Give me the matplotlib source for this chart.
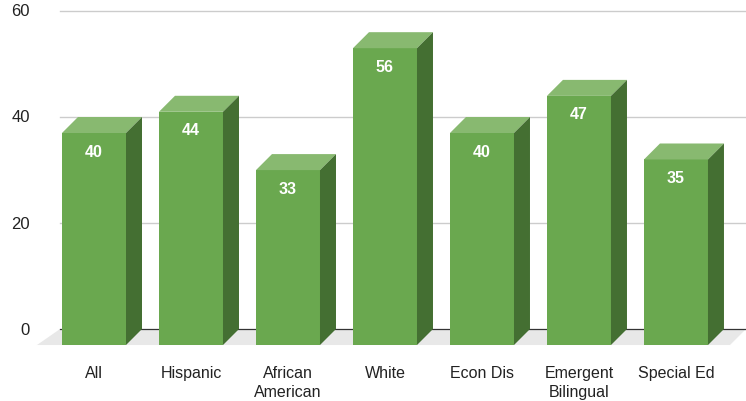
import matplotlib.pyplot as plt
from matplotlib.patches import Polygon
import numpy as np

categories = ['All', 'Hispanic', 'African\nAmerican', 'White', 'Econ Dis', 'Emergent\nBilingual', 'Special Ed']
values = [40, 44, 33, 56, 40, 47, 35]
yticks = [0, 20, 40, 60]

front_col = '#6aa84f'
top_col = '#88b970'
side_col = '#446f32'

plt.rcParams['font.family'] = ['Liberation Sans', 'DejaVu Sans']

fig = plt.figure(figsize=(7.46, 4.02), dpi=100)
ax = fig.add_axes([0, 0, 1, 1])
ax.set_xlim(-0.969, 6.722)
ax.set_ylim(-13.58, 62.26)
ax.axis('off')

x = np.arange(len(categories))
w = 0.66
dx = 16 / 97      # depth offset (x, data units)
dy = 16 / 5.3     # depth offset (y, data units)

# back wall gridlines
for t in yticks[1:]:
    ax.plot([-0.35, 6.722], [t, t], color='#cccccc', lw=1, zorder=1)
for t in yticks:
    ax.text(-0.66, t, str(t), ha='right', va='center', fontsize=12, color='#222222')

# floor
floor = Polygon([(-0.588, -dy), (-0.35, 0), (6.722, 0), (6.557, -dy)],
                closed=True, facecolor='#e8e8e8', edgecolor='none', zorder=1)
ax.add_patch(floor)
ax.plot([-0.35, 6.722], [0, 0], color='#333333', lw=0.9, zorder=2)

# front faces
ax.bar(x, values, width=w, bottom=-dy, color=front_col, zorder=3)

for xi, v in zip(x, values):
    l, r = xi - w / 2, xi + w / 2
    top = Polygon([(l, v - dy), (r, v - dy), (r + dx, v), (l + dx, v)],
                  closed=True, facecolor=top_col, edgecolor='none', zorder=3)
    side = Polygon([(r, -dy), (r + dx, 0), (r + dx, v), (r, v - dy)],
                   closed=True, facecolor=side_col, edgecolor='none', zorder=3)
    ax.add_patch(top)
    ax.add_patch(side)
    ax.text(xi, v - dy - 3.4, str(v), ha='center', va='center', fontsize=11.5,
            fontweight='bold', color='white', zorder=4)

for xi, c in zip(x, categories):
    ax.text(xi, -6.7, c, ha='center', va='top', fontsize=11.5, color='#222222',
            linespacing=1.35)

fig.savefig('out.png', dpi=100)
